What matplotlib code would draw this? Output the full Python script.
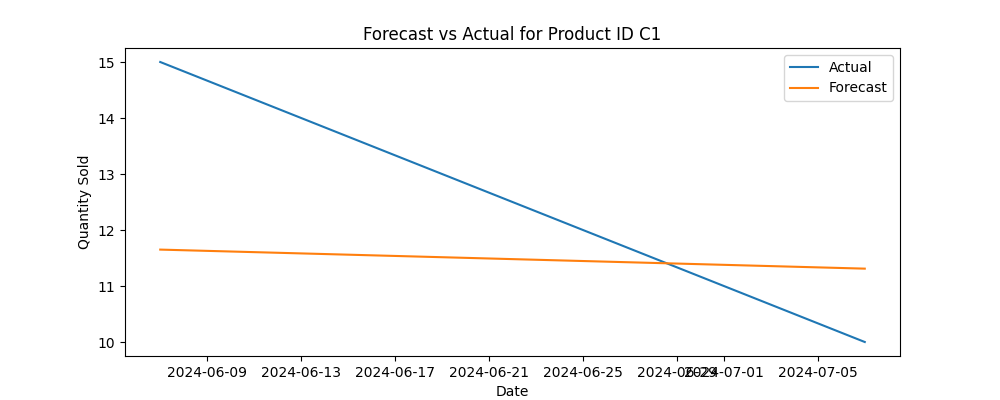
import matplotlib
matplotlib.use("Agg")
import matplotlib.pyplot as plt
import pandas as pd

dates = pd.to_datetime(["2024-06-07", "2024-07-07"])
actual = [15, 10]
forecast = [11.65, 11.31]

fig, ax = plt.subplots(figsize=(10, 4))
ax.plot(dates, actual, label="Actual")
ax.plot(dates, forecast, label="Forecast")
ax.set_title("Forecast vs Actual for Product ID C1")
ax.set_xlabel("Date")
ax.set_ylabel("Quantity Sold")
ax.legend()
plt.savefig("out.png")
